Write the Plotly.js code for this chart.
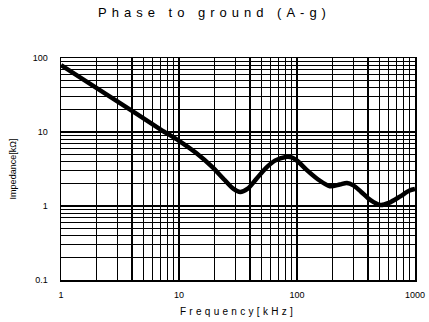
<!DOCTYPE html>
<html>
<head>
<meta charset="utf-8">
<script src="https://cdn.plot.ly/plotly-3.0.1.min.js"></script>
<style>
html,body{margin:0;padding:0;background:#fff;}
#chart{width:429px;height:322px;}
.gtitle{letter-spacing:5px;}
.xtitle{letter-spacing:3.3px;}
</style>
</head>
<body>
<div id="chart"></div>
<script>
// Data
var frequencyKHz = [1, 3, 7, 10, 14, 19, 24, 29, 33, 38, 45, 55, 65, 80, 90, 100, 120, 150, 190, 230, 265, 300, 350, 420, 510, 600, 750, 900, 1000];
var impedanceKOhm = [80, 26, 10.8, 7.6, 5.2, 3.4, 2.3, 1.7, 1.55, 1.7, 2.3, 3.3, 4.1, 4.6, 4.55, 4.1, 3.1, 2.3, 1.85, 1.95, 2.05, 1.9, 1.55, 1.2, 1.03, 1.1, 1.35, 1.62, 1.7];

var xTickVals = [1, 10, 100, 1000];
var xTickText = ["1", "10", "100", "1000"];
var yTickVals = [0.1, 1, 10, 100];
var yTickText = ["0.1", "1", "10", "100"];

function minorVals(lo, hi) {
  var out = [];
  for (var d = lo; d < hi; d *= 10) {
    for (var k = 2; k <= 9; k++) out.push(d * k);
  }
  return out;
}

var trace = {
  x: frequencyKHz,
  y: impedanceKOhm,
  type: 'scatter',
  mode: 'lines',
  line: {color: '#000', width: 4.5, shape: 'spline', smoothing: 0.8},
  hoverinfo: 'skip'
};

var fontFam = '"Liberation Sans", Arial, sans-serif';

var layout = {
  width: 429, height: 322,
  margin: {l: 61, r: 14, t: 58, b: 42},
  paper_bgcolor: '#fff', plot_bgcolor: '#fff',
  showlegend: false,
  title: {text: 'Phase to ground (A-g)', x: 0.5, xanchor: 'center', y: 0.96, yanchor: 'middle',
          font: {family: fontFam, size: 13, color: '#000'}},
  xaxis: {
    type: 'log', range: [0, 3],
    tickmode: 'array', tickvals: xTickVals, ticktext: xTickText,
    ticks: '', showline: true, linecolor: '#000', linewidth: 1.5, mirror: true,
    showgrid: true, gridcolor: '#000', gridwidth: 2,
    minor: {tickmode: 'array', tickvals: minorVals(1, 1000), showgrid: true, gridcolor: '#000', gridwidth: 1.3, ticks: ''},
    tickfont: {family: fontFam, size: 9, color: '#000'},
    ticklabelstandoff: 6,
    title: {text: 'Frequency[kHz]', standoff: 8, font: {family: fontFam, size: 10, color: '#000'}},
    zeroline: false, fixedrange: true
  },
  yaxis: {
    type: 'log', range: [-1, 2],
    tickmode: 'array', tickvals: yTickVals, ticktext: yTickText,
    ticks: '', showline: true, linecolor: '#000', linewidth: 1.5, mirror: true,
    showgrid: true, gridcolor: '#000', gridwidth: 2,
    minor: {tickmode: 'array', tickvals: minorVals(0.1, 100), showgrid: true, gridcolor: '#000', gridwidth: 1.3, ticks: ''},
    tickfont: {family: fontFam, size: 9, color: '#000'},
    ticklabelstandoff: 10,
    title: {text: 'Impedance[kΩ]', standoff: 14, font: {family: fontFam, size: 9, color: '#000'}},
    zeroline: false, fixedrange: true
  }
};

Plotly.newPlot('chart', [trace], layout, {displayModeBar: false, staticPlot: true});
</script>
</body>
</html>
